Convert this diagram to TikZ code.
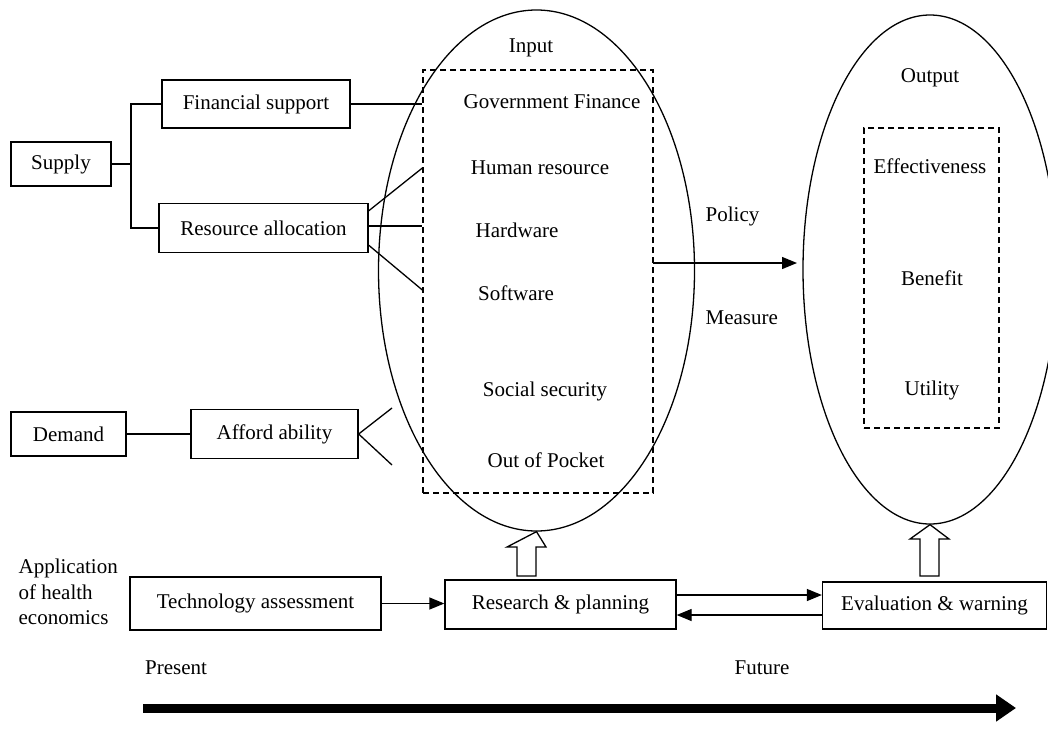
\documentclass[tikz,border=0pt]{standalone}
\usepackage{fontspec}
\setmainfont{Liberation Serif}
\usetikzlibrary{shapes.geometric,arrows.meta,calc}
\begin{document}
\begin{tikzpicture}[x=1pt,y=-1pt,
  font=\fontsize{21}{25.5}\selectfont,
  line width=1.3pt,
  box/.style={draw, inner sep=0pt},
  lbl/.style={inner sep=0pt},
  dashbox/.style={draw, dash pattern=on 6pt off 4pt, inner sep=0pt},
  oval/.style={draw, ellipse, inner sep=0pt},
  arr/.style={-{Triangle[length=15pt,width=12pt]}},
  hollow/.style={draw, fill=white},
  bigarrow/.style={line width=9pt, -{Triangle[length=20pt,width=26pt]}}
]
\useasboundingbox (0,0) rectangle (1048,747);
\clip (0,0) rectangle (1048,747);

% ellipses and dashed boxes
\node[oval, minimum width=316pt, minimum height=521pt] (inell) at (536.5,270.5) {};
\node[oval, minimum width=254pt, minimum height=509pt] (outell) at (930,269.5) {};
\node[dashbox, minimum width=230pt, minimum height=423pt] (inbox) at (538,281.5) {};
\node[dashbox, minimum width=135pt, minimum height=300pt] (outbox) at (931.5,278) {};

% texts inside ellipses
\node[lbl] (input) at (531,48) {Input};
\node[lbl] (gf) at (552,102) {Government Finance};
\node[lbl] (hr) at (540,168) {Human resource};
\node[lbl] (hw) at (517,230) {Hardware};
\node[lbl] (sw) at (516,293) {Software};
\node[lbl] (ss) at (545,391) {Social security};
\node[lbl] (oop) at (546,460) {Out of Pocket};

\node[lbl] (output) at (930,78) {Output};
\node[lbl] (eff) at (930,166) {Effectiveness};
\node[lbl] (ben) at (932,278) {Benefit};
\node[lbl] (uti) at (932,390) {Utility};

\node[lbl, anchor=west] (policy) at (705,216) {Policy};
\node[lbl, anchor=west] (measure) at (705,318) {Measure};

% left boxes
\node[box, minimum width=100pt, minimum height=44pt] (supply) at (61,164) {Supply};
\node[box, minimum width=188pt, minimum height=48pt] (fin) at (256,104) {Financial support};
\node[box, minimum width=209pt, minimum height=49pt] (res) at (263.5,228) {Resource allocation};
\node[box, minimum width=115pt, minimum height=44pt] (demand) at (68.5,434) {Demand};
\node[box, minimum width=167pt, minimum height=49pt] (afford) at (274.5,434) {Afford ability};

% bottom row
\node[lbl, anchor=west, align=left] (app) at (18,592) {Application\\of health\\economics};
\node[box, minimum width=251pt, minimum height=53pt] (tech) at (255.5,603.5) {Technology assessment};
\node[box, minimum width=231pt, minimum height=49pt] (resplan) at (560.5,604.5) {Research \& planning};
\node[box, minimum width=224pt, minimum height=47pt] (eval) at (934.5,605.5) {Evaluation \& warning};

\node[lbl] (present) at (176,668) {Present};
\node[lbl] (future) at (762,668) {Future};

% supply bracket
\coordinate (br) at (131,164);
\draw (supply.east) -- (br);
\draw (fin.west) -| (br) |- (res.west);

% supply lines into input box
\draw (fin.east) -- (inbox.west |- fin.east);
\draw ($(res.north east)+(0,8)$) -- (inbox.west |- hr);
\draw ($(res.east)+(0,-2)$) -- (inbox.west |- 0,226);
\draw ($(res.south east)+(0,-8)$) -- (inbox.west |- 0,290);

% demand
\draw (demand.east) -- (afford.west);
\coordinate (af1) at (392,408);
\coordinate (af2) at (392,465);
\draw (af1) -- (afford.east) -- (af2);

% policy arrow
\coordinate (pA) at (653,263);
\coordinate (pB) at (797,263);
\draw[arr] (pA) -- (pB);

% bottom arrows
\draw[arr] (tech.east) -- (tech.east -| resplan.west);
\draw[arr] (resplan.east |- 0,595) -- (eval.west |- 0,595);
\draw[arr] (eval.west |- 0,615) -- (resplan.east |- 0,615);

% hollow arrows
\draw[hollow] (517,576) -- (517,547) -- (507,547) -- (inell.south) -- (546,547) -- (536,547) -- (536,576) -- cycle;
\draw[hollow] (920,576) -- (920,539) -- (910,539) -- (outell.south) -- (949,539) -- (939,539) -- (939,576) -- cycle;

% time arrow
\coordinate (tA) at (143,708);
\coordinate (tB) at (1016,708);
\draw[bigarrow] (tA) -- (tB);
\end{tikzpicture}
\end{document}
